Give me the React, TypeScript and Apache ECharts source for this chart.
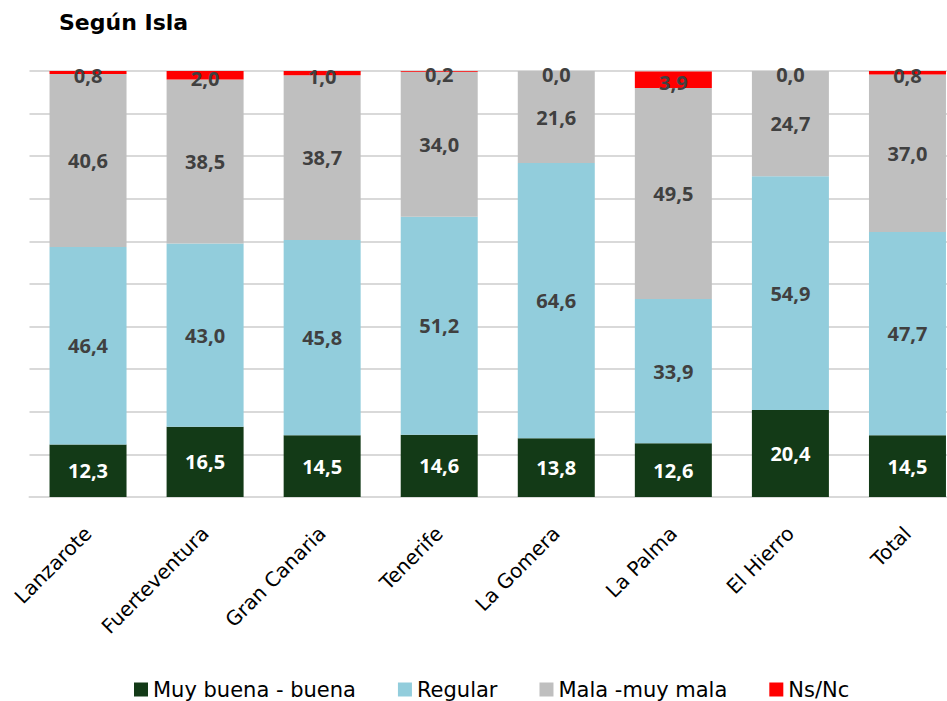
import React, { useEffect, useRef } from "react";
import * as echarts from "echarts";

const categories = ["Lanzarote", "Fuerteventura", "Gran Canaria", "Tenerife", "La Gomera", "La Palma", "El Hierro", "Total"];
const seriesNames = ["Muy buena - buena", "Regular", "Mala -muy mala", "Ns/Nc"];
const muyBuena = [12.3, 16.5, 14.5, 14.6, 13.8, 12.6, 20.4, 14.5];
const regular = [46.4, 43.0, 45.8, 51.2, 64.6, 33.9, 54.9, 47.7];
const mala = [40.6, 38.5, 38.7, 34.0, 21.6, 49.5, 24.7, 37.0];
const nsnc = [0.8, 2.0, 1.0, 0.2, 0.0, 3.9, 0.0, 0.8];
const colors = ["#133a17", "#92cddc", "#bfbfbf", "#ff0000"];

const FONT = "'DejaVu Sans', 'Noto Sans', sans-serif";
const LABEL_FONT = "'Open Sans', 'Noto Sans', sans-serif";
const fmt = (p: any) => Number(p.value).toFixed(1).replace(".", ",");

export default function App() {
  const ref = useRef<HTMLDivElement>(null);
  useEffect(() => {
    if (!ref.current) return;
    const chart = echarts.init(ref.current, null, { renderer: "svg" });
    const mk = (name: string, data: number[], i: number) => ({
      name,
      type: "bar",
      stack: "total",
      data,
      barWidth: 77,
      itemStyle: { color: colors[i] },
      label: {
        show: true,
        position: "inside",
        offset: i === 3 ? [0, 3] : [0, 0],
        formatter: fmt,
        fontFamily: LABEL_FONT,
        fontWeight: "bold",
        fontSize: 20,
        color: i === 0 ? "#ffffff" : "#404040",
      },
    });
    chart.setOption({
      animation: false,
      textStyle: { fontFamily: FONT },
      title: {
        text: "Según Isla",
        left: 59,
        top: 11,
        padding: 0,
        textStyle: { fontFamily: FONT, fontWeight: "bold", fontSize: 22, color: "#000" },
      },
      legend: {
        data: seriesNames,
        left: 134,
        top: 679,
        padding: 0,
        itemWidth: 14,
        itemHeight: 14,
        itemGap: 42,
        icon: "rect",
        textStyle: { fontFamily: FONT, fontSize: 21, lineHeight: 20, color: "#000" },
      },
      grid: { left: 29.5, right: 0, top: 71, bottom: 204, containLabel: false },
      xAxis: {
        type: "category",
        data: categories,
        axisLine: { lineStyle: { color: "#d9d9d9", width: 2 } },
        axisTick: { show: false },
        axisLabel: {
          rotate: 45,
          fontFamily: FONT,
          fontSize: 20,
          color: "#000",
          margin: 33,
          interval: 0,
        },
      },
      yAxis: {
        type: "value",
        min: 0,
        max: 100,
        interval: 10,
        axisLabel: { show: false },
        axisLine: { show: false },
        axisTick: { show: false },
        splitLine: { lineStyle: { color: "#d9d9d9", width: 2 } },
      },
      series: [
        mk(seriesNames[0], muyBuena, 0),
        mk(seriesNames[1], regular, 1),
        mk(seriesNames[2], mala, 2),
        mk(seriesNames[3], nsnc, 3),
      ],
    });
    return () => chart.dispose();
  }, []);
  return (
    <div style={{ position: "absolute", left: 0, top: 0, width: 947, height: 701, overflow: "hidden" }}>
      <div ref={ref} style={{ width: 966, height: 701 }} />
    </div>
  );
}
